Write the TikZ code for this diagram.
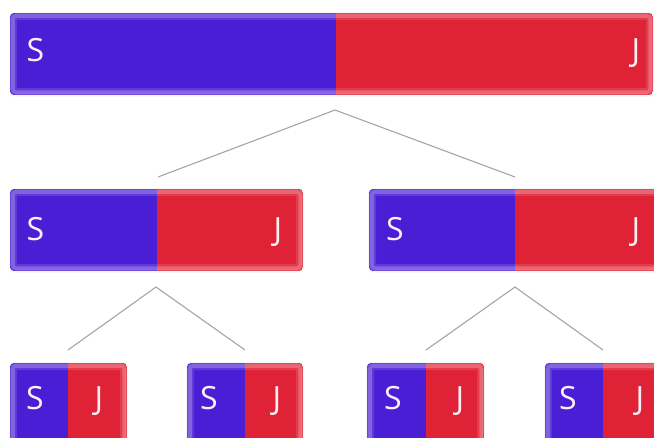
\documentclass[tikz,border=0pt]{standalone}
\usepackage{fontspec}
\setmainfont{Open Sans}
\definecolor{poleS}{RGB}{74,30,212}
\definecolor{poleJ}{RGB}{224,34,54}
\definecolor{link}{RGB}{165,165,165}
\definecolor{letter}{RGB}{250,240,246}

% #1 left, #2 split, #3 right, #4 top, #5 bottom
\newcommand\magnetbar[5]{%
  \fill[black, opacity=.04, rounded corners=5pt] (#1-1,#4-1) rectangle (#3+1,#5+1.5);
  \begin{scope}
    \clip[rounded corners=4pt] (#1,#4) rectangle (#3,#5);
    \fill[poleS] (#1,#4) rectangle (#2,#5);
    \fill[poleJ] (#2,#4) rectangle (#3,#5);
    % soft glossy rim
    \draw[white, opacity=.12, line width=7pt, rounded corners=3pt]
      (#1+3.5,#4+3.5) rectangle (#3-3.5,#5-3.5);
    \draw[white, opacity=.22, line width=3.5pt, rounded corners=3pt]
      (#1+3,#4+3) rectangle (#3-3,#5-3);
    \draw[white, opacity=.12, line width=1.2pt, rounded corners=3pt]
      (#1+1,#4+1) rectangle (#3-1,#5-1);
  \end{scope}}

\tikzset{
  pole/.style={text=letter, font=\fontsize{32}{32}\selectfont, anchor=base, inner sep=0pt},
  linkline/.style={draw=link, line width=1.1pt}
}

\begin{document}
\begin{tikzpicture}[x=1pt, y=-1pt]
\useasboundingbox (0,0) rectangle (654,437);
\clip (0,0) rectangle (654,437);

% magnets
\magnetbar{10}{336}{653}{13}{95}
\magnetbar{10}{157}{303}{189}{271}
\magnetbar{369}{515}{662}{189}{271}
\magnetbar{10}{68}{127}{363}{450}
\magnetbar{187}{245}{303}{363}{450}
\magnetbar{367}{426}{484}{363}{450}
\magnetbar{545}{603}{662}{363}{450}

% pole letters
\node[pole] (s0) at (35.5,61) {S};
\node[pole] (j0) at (636,61) {J};
\node[pole] (s1) at (35.5,240) {S};
\node[pole] (j1) at (278,240) {J};
\node[pole] (s2) at (395,240) {S};
\node[pole] (j2) at (636,240) {J};
\node[pole] (s3) at (35,409) {S};
\node[pole] (j3) at (99,409) {J};
\node[pole] (s4) at (209,409) {S};
\node[pole] (j4) at (277,409) {J};
\node[pole] (s5) at (393,409) {S};
\node[pole] (j5) at (460,409) {J};
\node[pole] (s6) at (568,409) {S};
\node[pole] (j6) at (640,409) {J};

% splitting links
\coordinate (a0) at (335,110);
\coordinate (b1) at (158,177);
\coordinate (b2) at (515,177);
\coordinate (a1) at (156,287);
\coordinate (c3) at (68,350);
\coordinate (c4) at (245,350);
\coordinate (a2) at (515,287);
\coordinate (c5) at (426,350);
\coordinate (c6) at (603,350);

\draw[linkline] (b1) -- (a0) -- (b2);
\draw[linkline] (c3) -- (a1) -- (c4);
\draw[linkline] (c5) -- (a2) -- (c6);
\end{tikzpicture}
\end{document}
